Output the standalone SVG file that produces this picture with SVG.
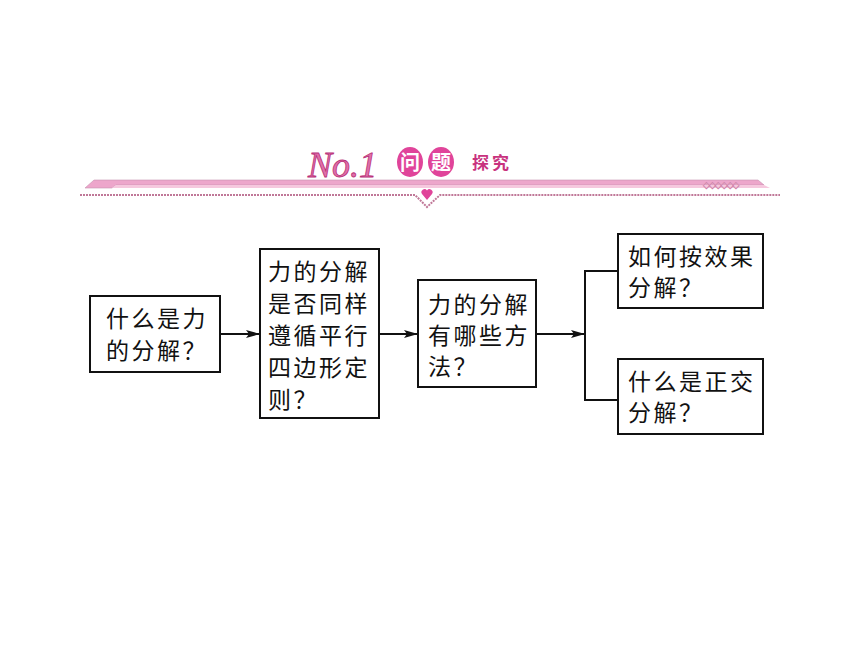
<svg xmlns="http://www.w3.org/2000/svg" width="860" height="645" viewBox="0 0 860 645">
<defs>
<style>
.box{fill:#fff;stroke:#111;stroke-width:2}
.t{font-family:"Noto Sans CJK SC","Noto Sans",sans-serif;font-size:23px;letter-spacing:2.5px;fill:#111}
.ln{fill:none;stroke:#111;stroke-width:2}
.dots{stroke:#c07898;stroke-width:2;stroke-dasharray:2 1;fill:none}
.hz{font-family:"Noto Sans CJK SC",sans-serif;font-weight:bold}
</style>
<marker id="ah" viewBox="0 0 14 8" refX="14" refY="4" markerWidth="14" markerHeight="8" markerUnits="userSpaceOnUse" orient="auto">
<path d="M0,0 L14,4 L0,8 L3,4 Z" fill="#111"/>
</marker>
</defs>
<rect width="860" height="645" fill="#fff"/>
<g id="header">
<text x="308" y="177" font-family="Liberation Serif,serif" font-style="italic" font-size="36" fill="#e070a8" stroke="#b83078" stroke-width="0.8">No.1</text>
<ellipse cx="410" cy="162" rx="13" ry="15" fill="#e0449a"/>
<ellipse cx="441" cy="162" rx="13" ry="15" fill="#e0449a"/>
<text class="hz" x="410" y="169.5" text-anchor="middle" font-size="20" fill="#fff">问</text>
<text class="hz" x="441" y="169.5" text-anchor="middle" font-size="20" fill="#fff">题</text>
<text class="hz" x="472" y="169" font-size="17" letter-spacing="3" fill="#c8327e">探究</text>
<polygon points="94,180 758,180 764,185 116,185 112,188 85,188" fill="#eda6cb" stroke="#c890b0" stroke-width="0.6"/>
<polygon points="116,185 764,185 770,188 112,188" fill="#f6c8de"/>
<text x="703" y="188" font-family="DejaVu Sans,sans-serif" font-size="9" fill="#fff" stroke="#d080a8" stroke-width="0.5" letter-spacing="-1">◇◇◇◇◇◇</text>
<path class="dots" d="M80,195 H415 L427,207 L440,195 H780"/>
<path d="M427,200 L422,194 A2.8,2.8 0 0 1 427,190.5 A2.8,2.8 0 0 1 432,194 Z" fill="#e0449a"/>
</g>
<g id="connectors">
<line class="ln" x1="220" y1="334" x2="260" y2="334" marker-end="url(#ah)"/>
<line class="ln" x1="379" y1="334" x2="418" y2="334" marker-end="url(#ah)"/>
<line class="ln" x1="536" y1="334" x2="585" y2="334" marker-end="url(#ah)"/>
<polyline class="ln" points="618,271 585,271 585,400 618,400"/>
</g>
<g id="n1">
<rect class="box" x="90" y="296" width="130" height="76"/>
<text class="t"><tspan x="106" y="327">什么是力</tspan><tspan x="106" y="359">的分解？</tspan></text>
</g>
<g id="n2">
<rect class="box" x="260" y="249" width="119" height="169"/>
<text class="t"><tspan x="268" y="280">力的分解</tspan><tspan x="268" y="312">是否同样</tspan><tspan x="268" y="344">遵循平行</tspan><tspan x="268" y="376">四边形定</tspan><tspan x="268" y="408">则？</tspan></text>
</g>
<g id="n3">
<rect class="box" x="418" y="280" width="118" height="107"/>
<text class="t"><tspan x="428" y="313">力的分解</tspan><tspan x="428" y="344">有哪些方</tspan><tspan x="428" y="375">法？</tspan></text>
</g>
<g id="n4">
<rect class="box" x="618" y="234" width="145" height="74"/>
<text class="t"><tspan x="628" y="265">如何按效果</tspan><tspan x="628" y="296">分解？</tspan></text>
</g>
<g id="n5">
<rect class="box" x="618" y="359" width="145" height="75"/>
<text class="t"><tspan x="628" y="390">什么是正交</tspan><tspan x="628" y="421">分解？</tspan></text>
</g>
</svg>
